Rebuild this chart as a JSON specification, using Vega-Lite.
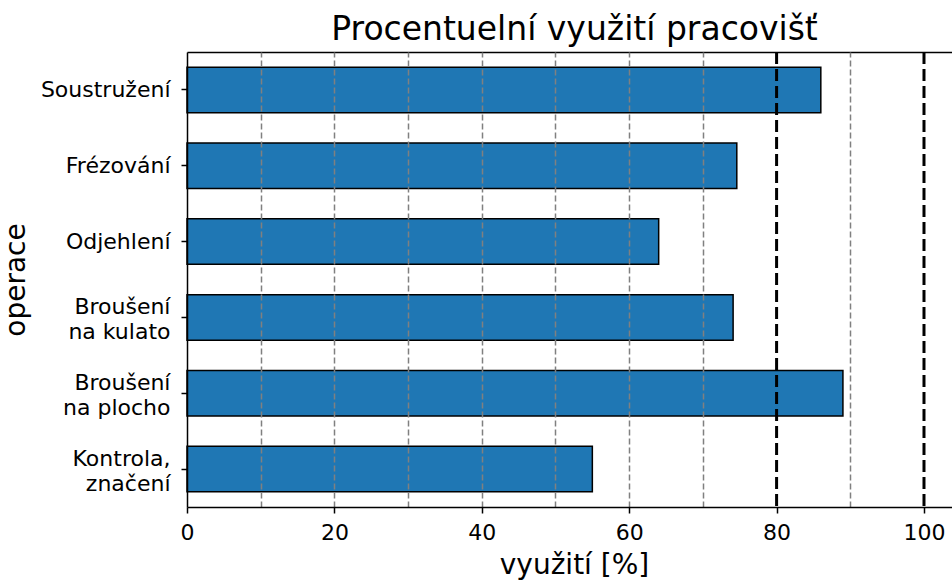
{
  "$schema": "https://vega.github.io/schema/vega-lite/v6.json",
  "autosize": "none",
  "padding": {"left": 187, "top": 52, "right": 0, "bottom": 73},
  "width": 765,
  "height": 455,
  "background": "white",
  "config": {
    "view": {"stroke": null},
    "font": "DejaVu Sans"
  },
  "title": {
    "text": "Procentuelní využití pracovišť",
    "font": "DejaVu Sans",
    "fontSize": 33,
    "fontWeight": "normal",
    "color": "black",
    "anchor": "middle",
    "baseline": "alphabetic",
    "offset": 12,
    "dx": 5,
    "dy": 34
  },
  "layer": [
    {
      "data": {
        "values": [
          {"operace": "Soustružení", "vyuziti": 86.0},
          {"operace": "Frézování", "vyuziti": 74.6},
          {"operace": "Odjehlení", "vyuziti": 64.0},
          {"operace": "Broušení\nna kulato", "vyuziti": 74.1},
          {"operace": "Broušení\nna plocho", "vyuziti": 89.0},
          {"operace": "Kontrola,\nznačení", "vyuziti": 55.0}
        ]
      },
      "mark": {"type": "bar", "fill": "#1f77b4", "stroke": "black", "strokeWidth": 1.5},
      "encoding": {
        "y": {
          "field": "operace",
          "type": "nominal",
          "sort": null,
          "scale": {"paddingInner": 0.4, "paddingOuter": 0.2},
          "axis": {
            "title": "operace",
            "titleFont": "DejaVu Sans",
            "titleFontSize": 28,
            "titleFontWeight": "normal",
            "titleColor": "black",
            "titlePadding": 10,
            "labelFont": "DejaVu Sans",
            "labelFontSize": 22,
            "labelColor": "black",
            "labelExpr": "split(datum.label, '\\n')",
            "labelLineHeight": 25,
            "labelPadding": 11,
            "labelOffset": {"condition": {"test": "indexof(datum.value, '\\n') >= 0", "value": -10}, "value": 0},
            "tickColor": "black",
            "tickWidth": 1.5,
            "tickSize": 6,
            "domainColor": "black",
            "domainWidth": 1.5,
            "grid": false,
            "zindex": 2
          }
        },
        "x": {
          "field": "vyuziti",
          "type": "quantitative",
          "scale": {"domain": [0, 103.8], "nice": false, "zero": true},
          "axis": {
            "title": "využití [%]",
            "titleFont": "DejaVu Sans",
            "titleFontSize": 28,
            "titleFontWeight": "normal",
            "titleColor": "black",
            "titleX": 387,
            "titlePadding": 8,
            "values": [0, 10, 20, 30, 40, 50, 60, 70, 80, 90, 100],
            "labelExpr": "datum.value % 20 === 0 ? datum.label : ''",
            "labelFont": "DejaVu Sans",
            "labelFontSize": 22,
            "labelColor": "black",
            "labelPadding": 9,
            "labelFlush": false,
            "labelOverlap": false,
            "tickColor": "black",
            "tickWidth": 1.5,
            "tickSize": 6,
            "tickOpacity": {"condition": {"test": "datum.value % 20 === 0", "value": 1}, "value": 0},
            "domainColor": "black",
            "domainWidth": 1.5,
            "grid": true,
            "gridColor": "#808080",
            "gridWidth": 1.5,
            "gridDash": [6, 3],
            "gridOpacity": {"condition": {"test": "datum.value === 0 || datum.value === 80 || datum.value === 100", "value": 0}, "value": 1},
            "zindex": 1
          }
        }
      }
    },
    {
      "data": {"values": [{"limit": 80}, {"limit": 100}]},
      "mark": {"type": "rule", "color": "black", "strokeWidth": 3, "strokeDash": [12, 5]},
      "encoding": {
        "x": {
          "field": "limit",
          "type": "quantitative",
          "axis": {
            "orient": "top",
            "title": null,
            "labels": false,
            "ticks": false,
            "grid": false,
            "domainColor": "black",
            "domainWidth": 1.5
          }
        }
      }
    }
  ],
  "resolve": {"axis": {"x": "independent"}}
}
